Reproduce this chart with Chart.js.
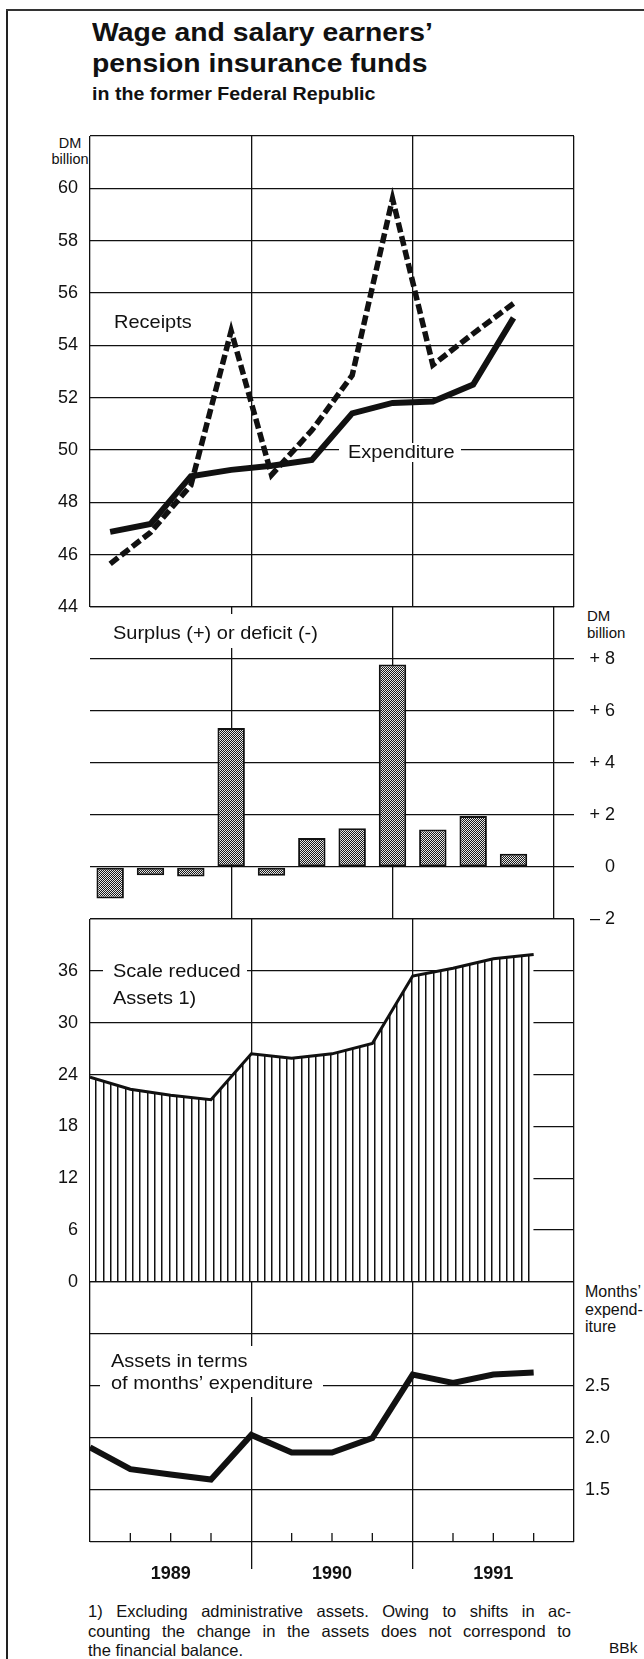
<!DOCTYPE html>
<html>
<head>
<meta charset="utf-8">
<script src="https://cdn.jsdelivr.net/npm/chart.js@4.4.1/dist/chart.umd.min.js"></script>
<style>
html, body { margin:0; padding:0; background:#fff; width:644px; height:1659px; overflow:hidden; }
body { position:relative; font-family:"Liberation Sans", Arial, Helvetica, sans-serif; color:#111; }
canvas { position:absolute; left:0; }
.t { position:absolute; white-space:nowrap; line-height:1; }
.sx { transform-origin:0 0; transform:scaleX(1.09); }
.fn { position:absolute; left:88px; width:483px; font-size:16.5px; line-height:1; text-align:justify; text-align-last:justify; white-space:nowrap; }
</style>
</head>
<body>
<div style="position:absolute;left:6px;top:9px;width:1.5px;height:1660px;background:#222"></div>
<div style="position:absolute;left:6px;top:9px;width:640px;height:1.5px;background:#333"></div>

<div class="t sx" style="left:92px;top:19px;font-size:26px;font-weight:bold">Wage and salary earners’</div>
<div class="t sx" style="left:92px;top:50px;font-size:26px;font-weight:bold">pension insurance funds</div>
<div class="t sx" style="left:92px;top:84.8px;font-size:18px;font-weight:bold">in the former Federal Republic</div>

<div class="t" style="left:40px;width:60px;text-align:center;top:135.5px;font-size:14.5px">DM</div>
<div class="t" style="left:40px;width:60px;text-align:center;top:152.3px;font-size:14.5px">billion</div>

<div class="t" style="left:587px;top:608.3px;font-size:15px">DM</div>
<div class="t" style="left:587px;top:625.3px;font-size:15px">billion</div>

<div class="t" style="left:585px;top:1284px;font-size:16px">Months’</div>
<div class="t" style="left:585px;top:1301.7px;font-size:16px">expend-</div>
<div class="t" style="left:585px;top:1318.5px;font-size:16px">iture</div>

<div class="fn" style="top:1603px">1) Excluding administrative assets. Owing to shifts in ac-</div>
<div class="fn" style="top:1622.5px">counting the change in the assets does not correspond to</div>
<div class="fn" style="top:1641.5px;text-align-last:left">the financial balance.</div>
<div class="t" style="left:609px;top:1640px;font-size:15.5px">BBk</div>

<script>
// ---------------- DATA ----------------
const quarters = ['1989 Q1','1989 Q2','1989 Q3','1989 Q4','1990 Q1','1990 Q2','1990 Q3','1990 Q4','1991 Q1','1991 Q2','1991 Q3'];
const receipts    = [45.65, 46.85, 48.65, 54.55, 49.05, 50.75, 52.85, 59.6, 53.25, 54.45, 55.6];
const expenditure = [46.87, 47.17, 49.0, 49.24, 49.4, 49.62, 51.4, 51.8, 51.85, 52.5, 55.05];
const surplus     = [-1.21, -0.32, -0.37, 5.35, -0.34, 1.12, 1.49, 7.79, 1.44, 1.96, 0.51];

const quarterEnds = ['1988 Q4','1989 Q1','1989 Q2','1989 Q3','1989 Q4','1990 Q1','1990 Q2','1990 Q3','1990 Q4','1991 Q1','1991 Q2','1991 Q3'];
const assets      = [23.7, 22.3, 21.6, 21.1, 26.4, 25.9, 26.4, 27.6, 35.4, 36.3, 37.4, 37.9];
const monthsExp   = [1.91, 1.70, 1.65, 1.60, 2.03, 1.86, 1.86, 2.00, 2.61, 2.53, 2.61, 2.63];

const years = ['1989','1990','1991'];
const flowTickValues    = [44, 46, 48, 50, 52, 54, 56, 58, 60];
const surplusTickValues = [-2, 0, 2, 4, 6, 8];
const surplusTickLabels = ['– 2', '0', '+ 2', '+ 4', '+ 6', '+ 8'];
const assetTickValues   = [0, 6, 12, 18, 24, 30, 36];
const monthsTickValues  = [1.5, 2.0, 2.5];
const monthsTickLabels  = ['1.5', '2.0', '2.5'];

// ---------------- HELPERS ----------------
const INK = '#111';
const FONT = '"Liberation Sans", Arial, Helvetica, sans-serif';
Chart.defaults.font.family = FONT;
Chart.defaults.color = INK;

function qIndex(label) { const p = label.split(' Q'); return (Number(p[0]) - 1989) * 4 + Number(p[1]) - 1; }
const flowX  = l => qIndex(l) + 0.5;   // middle of quarter
const stockX = l => qIndex(l) + 1;     // end of quarter
function range(a, b, s) { const r = []; for (let v = a; v <= b + 1e-9; v += s) r.push(Math.round(v * 1000) / 1000); return r; }
function findLabel(vals, labels, v) { const i = vals.findIndex(t => Math.abs(t - v) < 1e-9); return i < 0 ? '' : (labels ? labels[i] : String(vals[i])); }

const PAD = 12;
function makeCanvas(areaTop, height) {
  const c = document.createElement('canvas');
  c.width = 644; c.height = height;
  c.style.top = (areaTop - PAD) + 'px'; c.style.width = '644px'; c.style.height = height + 'px';
  document.body.appendChild(c);
  return c;
}

const isYear = v => Math.abs(v % 4) < 1e-9;
function xScale(showLabels) {
  return {
    type: 'linear', min: 0, max: 12, offset: false,
    afterBuildTicks: a => { a.ticks = range(0, 12, 1).map(v => ({ value: v })); },
    afterFit: s => { s.height = showLabels ? 52 : 0; s.paddingLeft = 0; s.paddingRight = 0; },
    ticks: {
      display: showLabels, autoSkip: false, maxRotation: 0, padding: -6,
      font: { size: 18, weight: 'bold' }, color: INK,
      callback: v => { const i = (v - 2) / 4; return Number.isInteger(i) && years[i] ? years[i] : ''; }
    },
    grid: {
      color: c => (c.tick && isYear(c.tick.value)) ? INK : 'rgba(0,0,0,0)',
      lineWidth: 1.3,
      drawTicks: showLabels, tickLength: 27,
      tickColor: c => (c.tick && isYear(c.tick.value) && c.tick.value > 0 && c.tick.value < 12) ? INK : 'rgba(0,0,0,0)',
      tickWidth: 1.3
    },
    border: { display: false }
  };
}
function yScale(opt) {
  return {
    type: 'linear', position: opt.pos, min: opt.min, max: opt.max,
    afterBuildTicks: a => { a.ticks = range(opt.min, opt.max, opt.step).map(v => ({ value: v })); },
    afterFit: s => { s.width = opt.width; s.paddingTop = 0; s.paddingBottom = 0; },
    ticks: {
      padding: opt.pad, crossAlign: opt.align || 'near', font: { size: 18 }, color: INK,
      autoSkip: false,
      callback: v => findLabel(opt.vals, opt.labels, v)
    },
    grid: { color: INK, lineWidth: 1.3, drawTicks: false },
    border: { display: false }
  };
}
function notes(def) {
  return {
    id: 'notes',
    beforeDatasetsDraw(chart) {
      const ctx = chart.ctx, top = parseFloat(chart.canvas.style.top);
      ctx.save();
      ctx.fillStyle = '#fff';
      (def.boxes || []).forEach(b => ctx.fillRect(b[0], b[1] - top, b[2] - b[0], b[3] - b[1]));
      ctx.fillStyle = INK; ctx.textAlign = 'left'; ctx.textBaseline = 'alphabetic';
      ctx.font = '18.5px ' + FONT;
      (def.texts || []).forEach(t => {
        ctx.save(); ctx.translate(t[1], t[2] - top); ctx.scale(1.08, 1); ctx.fillText(t[0], 0, 0); ctx.restore();
      });
      ctx.restore();
    }
  };
}
const baseOpts = (padding, scales) => ({
  responsive: false, animation: false, events: [],
  layout: { padding },
  plugins: { legend: { display: false }, tooltip: { enabled: false } },
  scales
});

// patterns
function stipple() {
  const p = document.createElement('canvas'); p.width = 2; p.height = 2;
  const g = p.getContext('2d');
  g.fillStyle = '#e8e8e8'; g.fillRect(0, 0, 2, 2);
  g.fillStyle = '#1a1a1a'; g.fillRect(0, 0, 1, 1); g.fillRect(1, 1, 1, 1);
  return g.createPattern(p, 'repeat');
}
function hatch() {
  const p = document.createElement('canvas'); p.width = 22; p.height = 4;
  const g = p.getContext('2d');
  g.fillStyle = '#fff'; g.fillRect(0, 0, 22, 4);
  [0, 7, 15].forEach(x => { g.fillStyle = '#111'; g.fillRect(x, 0, 1, 4); g.fillStyle = '#888'; g.fillRect(x + 1, 0, 1, 4); });
  return g.createPattern(p, 'repeat');
}

// ---------------- PANEL 1: receipts / expenditure (area 136 → 607) ----------------
new Chart(makeCanvas(136, 471 + 2 * PAD), {
  type: 'line',
  data: { datasets: [
    { data: expenditure.map((v, i) => ({ x: flowX(quarters[i]), y: v })), borderColor: INK, borderWidth: 6,
      pointRadius: 0, borderJoinStyle: 'miter', borderCapStyle: 'butt', tension: 0 },
    { data: receipts.map((v, i) => ({ x: flowX(quarters[i]), y: v })), borderColor: INK, borderWidth: 5.5,
      borderDash: [10, 4], pointRadius: 0, borderJoinStyle: 'miter', borderCapStyle: 'butt', tension: 0 }
  ]},
  options: baseOpts({ top: PAD, bottom: PAD, left: 0, right: 70 }, {
    x: xScale(false),
    y: yScale({ pos: 'left', min: 44, max: 62, step: 2, width: 90, pad: 12, vals: flowTickValues })
  }),
  plugins: [notes({
    boxes: [[339, 443, 461, 462]],
    texts: [['Receipts', 114, 328], ['Expenditure', 348, 458]]
  })]
});

// ---------------- PANEL 2: surplus / deficit (area 607 → 919) ----------------
new Chart(makeCanvas(607, 312 + 2 * PAD), {
  type: 'bar',
  data: { datasets: [
    { data: surplus.map((v, i) => ({ x: flowX(quarters[i]), y: v })), backgroundColor: stipple(),
      borderColor: INK, borderWidth: 2, borderSkipped: false, barPercentage: 0.68, categoryPercentage: 1 }
  ]},
  options: baseOpts({ top: PAD, bottom: PAD, left: 90, right: 29 }, {
    x: xScale(false),
    y: yScale({ pos: 'right', min: -2, max: 10, step: 2, width: 41, pad: 12, align: 'far',
                vals: surplusTickValues, labels: surplusTickLabels })
  }),
  plugins: [notes({
    boxes: [[104, 614, 322, 648]],
    texts: [['Surplus (+) or deficit (-)', 113, 638.5]]
  })]
});

// ---------------- PANEL 3: assets (area 919 → 1282) ----------------
new Chart(makeCanvas(919, 363 + 2 * PAD), {
  type: 'line',
  data: { datasets: [
    { data: assets.map((v, i) => ({ x: stockX(quarterEnds[i]), y: v })), borderColor: INK, borderWidth: 3,
      backgroundColor: hatch(), fill: 'origin', pointRadius: 0, tension: 0, borderJoinStyle: 'miter' }
  ]},
  options: baseOpts({ top: PAD, bottom: PAD, left: 0, right: 70 }, {
    x: xScale(false),
    y: yScale({ pos: 'left', min: 0, max: 42, step: 6, width: 90, pad: 12, vals: assetTickValues })
  }),
  plugins: [notes({
    boxes: [[103, 958, 247, 1010]],
    texts: [['Scale reduced', 113, 977], ['Assets 1)', 113, 1003.5]]
  })]
});

// ---------------- PANEL 4: assets in months' expenditure (area 1282 → 1542) ----------------
const innerTicks = {
  id: 'innerTicks',
  afterDraw(chart) {
    const s = chart.scales.x, b = chart.chartArea.bottom, ctx = chart.ctx;
    ctx.save(); ctx.strokeStyle = INK; ctx.lineWidth = 1.3;
    s.ticks.forEach(t => {
      if (isYear(t.value)) return;
      const x = s.getPixelForValue(t.value);
      ctx.beginPath(); ctx.moveTo(x, b); ctx.lineTo(x, b - 9); ctx.stroke();
    });
    ctx.restore();
  }
};
new Chart(makeCanvas(1282, PAD + 260 + 52), {
  type: 'line',
  data: { datasets: [
    { data: monthsExp.map((v, i) => ({ x: stockX(quarterEnds[i]), y: v })), borderColor: INK, borderWidth: 6,
      pointRadius: 0, tension: 0, borderJoinStyle: 'miter', borderCapStyle: 'butt' }
  ]},
  options: baseOpts({ top: PAD, bottom: 0, left: 90, right: 0 }, {
    x: xScale(true),
    y: yScale({ pos: 'right', min: 1, max: 3.5, step: 0.5, width: 70, pad: 11,
                vals: monthsTickValues, labels: monthsTickLabels })
  }),
  plugins: [innerTicks, notes({
    boxes: [[100, 1346, 254, 1372], [100, 1372, 323, 1397]],
    texts: [['Assets in terms', 111, 1366.5], ['of months’ expenditure', 111, 1389]]
  })]
});
</script>
</body>
</html>
